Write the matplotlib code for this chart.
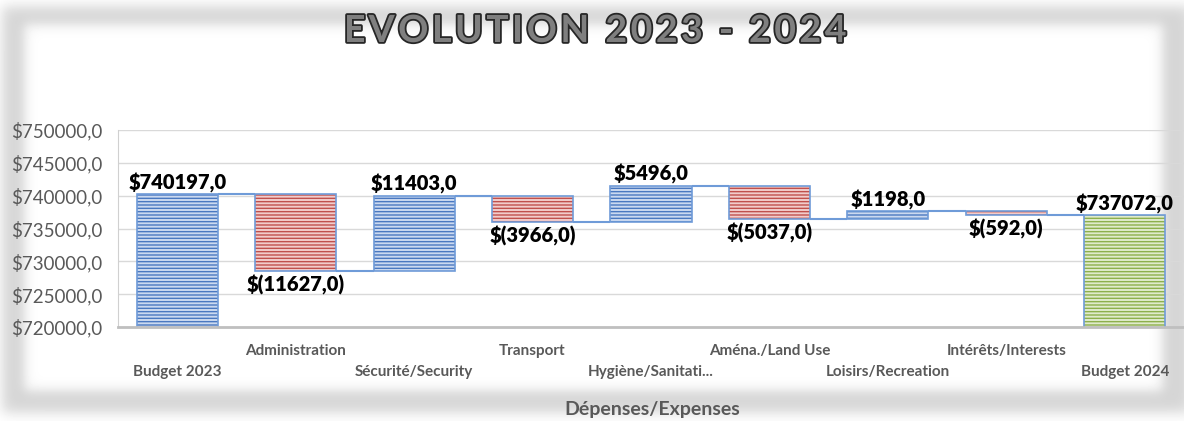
import numpy as np
import matplotlib
matplotlib.use("Agg")
import matplotlib.pyplot as plt
import matplotlib.patheffects as pe
from matplotlib.font_manager import FontProperties
from matplotlib.ticker import FuncFormatter

plt.rcParams['font.family'] = ['Lato', 'DejaVu Sans']
plt.rcParams['hatch.linewidth'] = 1.0

# --- data ---
categories = ["Budget 2023", "Administration", "Sécurité/Security", "Transport",
              "Hygiène/Sanitati...", "Aména./Land Use", "Loisirs/Recreation",
              "Intérêts/Interests", "Budget 2024"]
start_budget = 740197.0
changes = [-11627.0, 11403.0, -3966.0, 5496.0, -5037.0, 1198.0, -592.0]
end_budget = 737072.0
y_ticks = [720000, 725000, 730000, 735000, 740000, 745000, 750000]
title = "EVOLUTION 2023 - 2024"

W, H = 1184, 421

# running totals
levels = [start_budget]
for c in changes:
    levels.append(levels[-1] + c)
bottoms, tops, kinds = [0.0], [start_budget], ["total"]
for i, c in enumerate(changes):
    lo, hi = sorted([levels[i], levels[i + 1]])
    bottoms.append(lo)
    tops.append(hi)
    kinds.append("up" if c > 0 else "down")
bottoms.append(0.0)
tops.append(end_budget)
kinds.append("end")

styles = {
    "total": ("#cbd9f0", "#4a78c0"),
    "up": ("#cbd9f0", "#4a78c0"),
    "down": ("#f2cccb", "#c0504d"),
    "end": ("#e0ebcc", "#8db04c"),
}

fig = plt.figure(figsize=(W / 100, H / 100), dpi=100)

# soft card shadow behind the chart
yy, xx = np.mgrid[0:H, 0:W].astype(float)
def soft_rect(x0, x1, y0, y1, s):
    mx = 0.5 * (np.tanh((xx - x0) / s) - np.tanh((xx - x1) / s))
    my = 0.5 * (np.tanh((yy - y0) / s) - np.tanh((yy - y1) / s))
    return mx * my
shadow = soft_rect(2, 1190, 6, 412, 8)
card = soft_rect(24, 1162, 24, 390, 7)
img = 1 - 0.17 * shadow
img = img * (1 - card) + card
bg = fig.add_axes([0, 0, 1, 1], zorder=-5)
bg.imshow(img, cmap="gray", vmin=0, vmax=1, aspect="auto", interpolation="bilinear")
bg.axis("off")

ax = fig.add_axes([118 / W, 1 - 327 / H, (1184 - 118) / W, 197 / H])
ax.set_facecolor("none")

x = np.arange(len(categories))
width = 0.685
for xi, b, t, k in zip(x, bottoms, tops, kinds):
    face, line = styles[k]
    ax.bar(xi, t - b, bottom=b, width=width, color=face, edgecolor=line,
           hatch="-----", linewidth=0, zorder=2)
    ax.bar(xi, t - b, bottom=b, width=width, fill=False, edgecolor="#6f9bd8",
           linewidth=1.2, zorder=3)

# connectors
ax.hlines(levels, x[:-1] + width / 2, x[1:] - width / 2, color="#6f9bd8",
          linewidth=1.5, zorder=3)

# value labels
label_vals = [start_budget] + changes + [end_budget]
for xi, v, b, t, k in zip(x, label_vals, bottoms, tops, kinds):
    if v < 0:
        txt = "$({:.1f})".format(-v).replace(".", ",")
        ax.annotate(txt, (xi, b), xytext=(0, -3), textcoords="offset points",
                    ha="center", va="top", fontsize=14.5, fontweight="heavy", color="#000000")
    else:
        txt = "${:.1f}".format(v).replace(".", ",")
        ax.annotate(txt, (xi, t), xytext=(0, 1), textcoords="offset points",
                    ha="center", va="bottom", fontsize=14.5, fontweight="heavy", color="#000000")

ax.set_xlim(-0.5, len(categories) - 0.5)
ax.set_ylim(y_ticks[0], y_ticks[-1])
ax.set_yticks(y_ticks)
ax.yaxis.set_major_formatter(FuncFormatter(lambda v, p: "${:.1f}".format(v).replace(".", ",")))
ax.tick_params(axis="y", length=0, pad=11, labelsize=13.5, labelcolor="#595959")
ax.grid(axis="y", color="#d9d9d9", linewidth=1, zorder=0)
ax.set_axisbelow(True)

ax.set_xticks(x)
ax.set_xticklabels(categories, fontsize=11, fontweight="bold", color="#595959")
ax.tick_params(axis="x", length=0)
for i, tick in enumerate(ax.xaxis.get_major_ticks()):
    tick.set_pad(12 if i % 2 else 27.5)

for s in ["top", "right"]:
    ax.spines[s].set_visible(False)
ax.spines["left"].set_color("#d0d0d0")
ax.spines["bottom"].set_color("#bfbfbf")
ax.spines["bottom"].set_linewidth(2)
ax.spines["bottom"].set_zorder(4)

# letter-spaced outlined title
fp = FontProperties(family=["Lato", "DejaVu Sans"], weight="bold", size=27)
renderer = fig.canvas.get_renderer()
spacing = 3.5  # px between letters
def text_w(s):
    return renderer.get_text_width_height_descent(s, fp, ismath=False)[0] if s else 0.0
total_w = text_w(title) + spacing * (len(title) - 1)
x0 = 595 - total_w / 2
for i, ch in enumerate(title):
    if ch == " ":
        continue
    cx = x0 + text_w(title[:i]) + spacing * i
    fig.text(cx / W, 1 - 31 / H, ch, ha="left", va="center", fontproperties=fp,
             color="#7f7f7f",
             path_effects=[pe.withStroke(linewidth=2.6, foreground="#262626")])

fig.text(652 / W, 1 - 410 / H, "Dépenses/Expenses", ha="center", va="center",
         fontsize=14, fontweight="bold", color="#595959")

fig.savefig("out.png", dpi=100)
